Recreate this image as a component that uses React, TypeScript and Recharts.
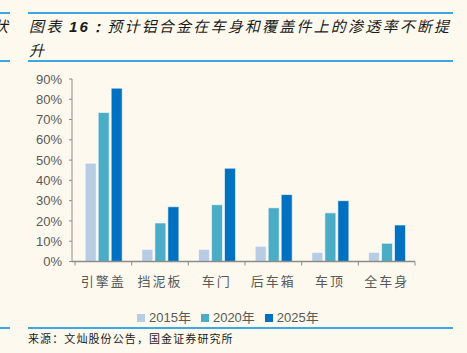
import React from "react";
import { BarChart, Bar, XAxis, YAxis, Legend } from "recharts";

const categories = ["引擎盖", "挡泥板", "车门", "后车箱", "车顶", "全车身"];
const share2015 = [0.485, 0.06, 0.06, 0.075, 0.045, 0.045];
const share2020 = [0.735, 0.19, 0.28, 0.265, 0.24, 0.09];
const share2025 = [0.855, 0.27, 0.46, 0.33, 0.3, 0.18];
const yTicks = [0, 0.1, 0.2, 0.3, 0.4, 0.5, 0.6, 0.7, 0.8, 0.9];

const data = categories.map((name, i) => ({
  name,
  "2015年": share2015[i],
  "2020年": share2020[i],
  "2025年": share2025[i],
}));

const W = 467;
const H = 353;
const margin = { top: 79, right: 52, bottom: 61.5, left: 22 };
const padLeft = 3;
const band = (W - margin.left - margin.right - 50 - padLeft) / categories.length;

const AXIS = "#8c8c8c";
const TEXT = "#595959";
const BLUE_LINE = "#3ea6e0";

const CategoryTick = (props: any) => {
  const { x, y, payload, index } = props;
  const half = band / 2;
  return (
    <g>
      <line x1={x - half} x2={x - half} y1={y} y2={y + 4} stroke={AXIS} />
      {index === categories.length - 1 && (
        <line x1={x + half} x2={x + half} y1={y} y2={y + 4} stroke={AXIS} />
      )}
      <text
        x={x}
        y={y + 24}
        textAnchor="middle"
        fontSize={13}
        fill={TEXT}
        letterSpacing={2}
        fontFamily="'Noto Sans CJK SC', sans-serif"
      >
        {payload.value}
      </text>
    </g>
  );
};

const hr = (top: number, left: number, width: number) => (
  <div
    style={{
      position: "absolute",
      top,
      left,
      width,
      height: 2,
      background: BLUE_LINE,
    }}
  />
);

export default function App() {
  return (
    <div
      style={{
        position: "absolute",
        left: 0,
        top: 0,
        width: W,
        height: H,
        background: "#fdf9ee",
        overflow: "hidden",
        fontFamily: "'Noto Sans CJK SC', sans-serif",
      }}
    >
      {hr(12, 0, 10)}
      {hr(12, 28, 425)}
      {hr(60, 0, 10)}
      {hr(60, 28, 425)}
      {hr(327, 0, 10)}
      {hr(327, 28, 425)}

      <div
        style={{
          position: "absolute",
          left: -7,
          top: 14,
          fontSize: 15,
          fontStyle: "italic",
          color: "#1a1a1a",
          lineHeight: "23px",
        }}
      >
        状
      </div>
      <div
        style={{
          position: "absolute",
          left: 29,
          top: 14,
          width: 430,
          fontSize: 15,
          fontStyle: "italic",
          color: "#1a1a1a",
          letterSpacing: 2.2,
          lineHeight: "23px",
          whiteSpace: "nowrap",
        }}
      >
        图表 <b style={{ fontFamily: "'Liberation Sans', sans-serif" }}>16：</b>
        预计铝合金在车身和覆盖件上的渗透率不断提
        <br />升
      </div>

      <div style={{ position: "absolute", left: 0, top: 0 }}>
        <BarChart
          width={W}
          height={H}
          data={data}
          margin={margin}
          barCategoryGap="18%"
          barGap={2}
        >
          <XAxis
            dataKey="name"
            height={30}
            interval={0}
            padding={{ left: padLeft, right: 0 }}
            tickSize={0}
            tickMargin={0}
            tickLine={false}
            axisLine={{ stroke: AXIS, strokeWidth: 1.5 }}
            tick={<CategoryTick />}
          />
          <YAxis
            width={50}
            domain={[0, 0.9]}
            ticks={yTicks}
            interval={0}
            tickSize={3}
            tickMargin={7}
            axisLine={{ stroke: AXIS }}
            tickLine={{ stroke: AXIS }}
            tickFormatter={(v: number) => `${Math.round(v * 100)}%`}
            tick={{ fontSize: 13, fill: TEXT, fontFamily: "'Liberation Sans', Arial, sans-serif" }}
          />
          <Legend
            layout="horizontal"
            verticalAlign="middle"
            align="center"
            iconType="square"
            iconSize={8}
            wrapperStyle={{ top: 303, left: 137, width: "auto" }}
            formatter={(v: string) => (
              <span
                style={{
                  color: TEXT,
                  fontSize: 13,
                  fontFamily: "'Liberation Sans', 'Noto Sans CJK SC', sans-serif",
                }}
              >
                {v}
              </span>
            )}
          />
          <Bar dataKey="2015年" fill="#b8cce4" stroke="#ffffff" strokeOpacity={0.6} isAnimationActive={false} />
          <Bar dataKey="2020年" fill="#4bacc6" stroke="#ffffff" strokeOpacity={0.6} isAnimationActive={false} />
          <Bar dataKey="2025年" fill="#0070c0" stroke="#ffffff" strokeOpacity={0.6} isAnimationActive={false} />
        </BarChart>
      </div>

      <div
        style={{
          position: "absolute",
          left: 28,
          top: 330,
          fontSize: 11,
          letterSpacing: 1.1,
          color: "#1a1a1a",
          lineHeight: "16px",
        }}
      >
        来源：文灿股份公告，国金证券研究所
      </div>
    </div>
  );
}
